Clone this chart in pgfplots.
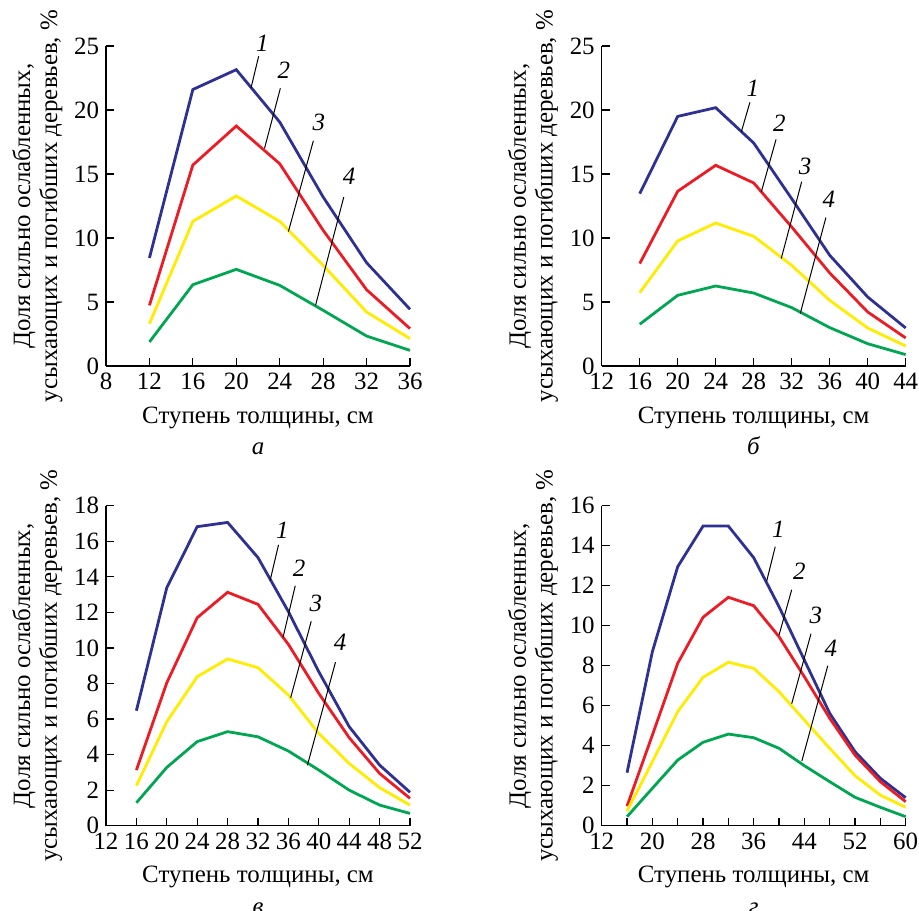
\documentclass[border=0pt]{standalone}
\usepackage{fontspec}
\setmainfont{Liberation Serif}
\usepackage{pgfplots}
\pgfplotsset{compat=1.18}

\definecolor{cblue}{RGB}{46,49,146}
\definecolor{cred}{RGB}{237,28,36}
\definecolor{cyellow}{RGB}{255,236,0}
\definecolor{cgreen}{RGB}{0,166,81}

\newcommand{\fs}{\fontsize{12.5}{16}\selectfont}

\tikzset{lead/.style={line width=0.5bp, black}}

\pgfplotsset{
  panel/.style={
    width=152bp, height=160bp, scale only axis,
    axis x line=bottom, axis y line=left,
    axis line style={-, line width=0.6bp},
    tick align=inside, major tick length=4bp,
    tick style={line width=0.6bp, black},
    enlargelimits=false, clip=false, ymin=0,
    ticklabel style={font=\fs},
    /pgf/number format/assume math mode=true,
    xlabel style={align=center, font=\fs, yshift=-1.5bp},
    ylabel style={align=center, font=\fontsize{12.5}{13.5}\selectfont},
    ylabel shift=-1bp,
    ylabel={Доля сильно ослабленных,\\усыхающих и погибших деревьев, \%},
    every axis plot/.append style={line width=1.4bp, no marks},
  },
}

\begin{document}
\begin{tikzpicture}

% a
\begin{axis}[panel, at={(53bp,272.5bp)}, anchor=south west,
  xmin=8, xmax=36, ymax=25, xtick={8,12,...,36}, ytick={0,5,...,25},
  xlabel={Ступень толщины, см\\\textit{а}}]
\addplot[cblue] coordinates {(12,8.44) (16,21.6) (20,23.15) (24,19.06) (28,13.2) (32,8.07) (36,4.43)};
\addplot[cred] coordinates {(12,4.74) (16,15.7) (20,18.75) (24,15.8) (28,10.6) (32,5.96) (36,2.92)};
\addplot[cyellow] coordinates {(12,3.3) (16,11.3) (20,13.28) (24,11.3) (28,7.86) (32,4.22) (36,2.14)};
\addplot[cgreen] coordinates {(12,1.88) (16,6.35) (20,7.55) (24,6.3) (28,4.35) (32,2.34) (36,1.22)};
\draw[lead] (axis cs:22.06,24.2) -- (axis cs:21.35,21.7);
\draw[lead] (axis cs:24.06,21.7) -- (axis cs:22.6,17.0);
\draw[lead] (axis cs:27.1,17.6) -- (axis cs:24.8,10.5);
\draw[lead] (axis cs:29.9,13.2) -- (axis cs:27.3,4.74);
\node[font=\fs\itshape] at (axis cs:22.4,25.2) {1};
\node[font=\fs\itshape] at (axis cs:24.37,23.1) {2};
\node[font=\fs\itshape] at (axis cs:27.6,19.0) {3};
\node[font=\fs\itshape] at (axis cs:30.4,14.8) {4};
\end{axis}

% b
\begin{axis}[panel, at={(300.85bp,272.5bp)}, anchor=south west,
  xmin=12, xmax=44, ymax=25, xtick={12,16,...,44}, ytick={0,5,...,25},
  xlabel={Ступень толщины, см\\\textit{б}}]
\addplot[cblue] coordinates {(16,13.46) (20,19.5) (24,20.18) (28,17.42) (32,13.07) (36,8.65) (40,5.39) (44,2.97)};
\addplot[cred] coordinates {(16,8.0) (20,13.65) (24,15.68) (28,14.3) (32,10.86) (36,7.27) (40,4.22) (44,2.19)};
\addplot[cyellow] coordinates {(16,5.73) (20,9.77) (24,11.17) (28,10.13) (32,7.86) (36,5.13) (40,2.97) (44,1.56)};
\addplot[cgreen] coordinates {(16,3.26) (20,5.52) (24,6.25) (28,5.7) (32,4.56) (36,3.0) (40,1.74) (44,0.89)};
\draw[lead] (axis cs:27.6,20.6) -- (axis cs:26.7,18.3);
\draw[lead] (axis cs:30.35,17.7) -- (axis cs:28.8,13.6);
\draw[lead] (axis cs:33.05,14.4) -- (axis cs:30.9,8.4);
\draw[lead] (axis cs:35.6,11.6) -- (axis cs:32.9,4.1);
\node[font=\fs\itshape] at (axis cs:27.9,21.7) {1};
\node[font=\fs\itshape] at (axis cs:30.7,19.0) {2};
\node[font=\fs\itshape] at (axis cs:33.4,15.6) {3};
\node[font=\fs\itshape] at (axis cs:35.9,13.0) {4};
\end{axis}

% v
\begin{axis}[panel, at={(53bp,42.65bp)}, anchor=south west,
  xmin=12, xmax=52, ymax=18, xtick={12,16,...,52}, ytick={0,2,...,18},
  xlabel={Ступень толщины, см\\\textit{в}}]
\addplot[cblue] coordinates {(16,6.47) (20,13.39) (24,16.82) (28,17.06) (32,15.08) (36,12.04) (40,8.66) (44,5.57) (48,3.41) (52,1.88)};
\addplot[cred] coordinates {(16,3.13) (20,8.04) (24,11.7) (28,13.13) (32,12.45) (36,10.2) (40,7.44) (44,4.95) (48,2.94) (52,1.54)};
\addplot[cyellow] coordinates {(16,2.25) (20,5.85) (24,8.38) (28,9.38) (32,8.89) (36,7.35) (40,5.19) (44,3.5) (48,2.14) (52,1.16)};
\addplot[cgreen] coordinates {(16,1.29) (20,3.28) (24,4.73) (28,5.29) (32,5.0) (36,4.2) (40,3.13) (44,2.0) (48,1.16) (52,0.69)};
\draw[lead] (axis cs:34.7,15.8) -- (axis cs:33.6,13.8);
\draw[lead] (axis cs:36.9,13.5) -- (axis cs:35.3,10.6);
\draw[lead] (axis cs:39.0,11.5) -- (axis cs:36.3,7.2);
\draw[lead] (axis cs:42.2,9.2) -- (axis cs:38.5,3.4);
\node[font=\fs\itshape] at (axis cs:35.2,16.6) {1};
\node[font=\fs\itshape] at (axis cs:37.4,14.5) {2};
\node[font=\fs\itshape] at (axis cs:39.6,12.5) {3};
\node[font=\fs\itshape] at (axis cs:42.8,10.3) {4};
\end{axis}

% g
\begin{axis}[panel, at={(300.85bp,42.65bp)}, anchor=south west,
  xmin=12, xmax=60, ymax=16, xtick={12,16,...,60},
  xticklabels={12,,20,,28,,36,,44,,52,,60}, ytick={0,2,...,16},
  xlabel={Ступень толщины, см\\\textit{г}}]
\addplot[cblue] coordinates {(16,2.65) (20,8.7) (24,12.95) (28,14.98) (32,14.98) (36,13.4) (40,10.95) (44,8.28) (48,5.62) (52,3.7) (56,2.37) (60,1.4)};
\addplot[cred] coordinates {(16,0.98) (20,4.53) (24,8.12) (28,10.42) (32,11.42) (36,11.0) (40,9.45) (44,7.45) (48,5.37) (52,3.53) (56,2.2) (60,1.2)};
\addplot[cyellow] coordinates {(16,0.73) (20,3.2) (24,5.7) (28,7.42) (32,8.17) (36,7.87) (40,6.7) (44,5.28) (48,3.87) (52,2.5) (56,1.53) (60,0.92)};
\addplot[cgreen] coordinates {(16,0.45) (20,1.87) (24,3.28) (28,4.17) (32,4.58) (36,4.4) (40,3.87) (44,3.0) (48,2.2) (52,1.42) (56,0.92) (60,0.45)};
\draw[lead] (axis cs:39.4,13.95) -- (axis cs:38.05,12.23);
\draw[lead] (axis cs:42.0,11.8) -- (axis cs:40.0,9.53);
\draw[lead] (axis cs:45.05,9.6) -- (axis cs:42.0,6.1);
\draw[lead] (axis cs:47.7,8.0) -- (axis cs:43.6,3.23);
\node[font=\fs\itshape] at (axis cs:39.9,14.8) {1};
\node[font=\fs\itshape] at (axis cs:43.2,12.7) {2};
\node[font=\fs\itshape] at (axis cs:45.8,10.5) {3};
\node[font=\fs\itshape] at (axis cs:48.2,8.87) {4};
\end{axis}

\pgfresetboundingbox
\useasboundingbox (0bp,0bp) rectangle (459.5bp,455.5bp);
\end{tikzpicture}
\end{document}
